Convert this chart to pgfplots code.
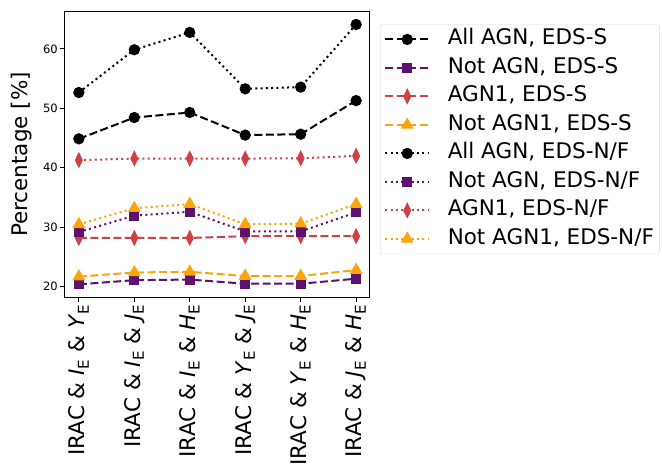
\documentclass[border=0pt]{standalone}
\usepackage{pgfplots}
\pgfplotsset{compat=1.18}
\usepackage{fontspec}
\setmainfont{DejaVu Sans}
\definecolor{cpur}{HTML}{5C126E}
\definecolor{cred}{HTML}{CC4248}
\definecolor{corg}{HTML}{FCA50A}
\newcommand{\bigf}{\fontsize{21.5bp}{25bp}\selectfont}
\newcommand{\lab}[2]{IRAC \& \textit{#1}\textsubscript{E} \& \textit{#2}\textsubscript{E}}
\begin{document}
\begin{tikzpicture}
\useasboundingbox (-65bp,-167bp) rectangle (597bp,297bp);
\begin{axis}[
  scale only axis, width=305bp, height=285bp,
  xmin=-0.25, xmax=5.25, ymin=18.27, ymax=66.2,
  xtick={0,1,2,3,4,5},
  xticklabels={\lab{I}{Y},\lab{I}{J},\lab{I}{H},\lab{Y}{J},\lab{Y}{H},\lab{J}{H}},
  xticklabel style={rotate=90, anchor=east, font=\bigf, inner sep=2bp},
  ytick={20,30,40,50,60},
  yticklabel style={font=\fontsize{11.5bp}{13bp}\selectfont, inner sep=2bp},
  /pgf/number format/assume math mode=true,
  tick align=outside, xtick pos=bottom, ytick pos=left,
  major tick length=5bp,
  tick style={black, line width=0.9bp},
  axis line style={black, line width=1bp},
  ylabel={Percentage [\%]},
  ylabel style={at={(axis description cs:-0.144,0.5)}, anchor=center, font=\bigf},
  every axis plot/.append style={line width=2bp},
  legend style={at={(rel axis cs:1.033,0.957)}, anchor=north west, font=\bigf,
    draw=black!15, rounded corners=2bp, row sep=6.5bp, inner xsep=4bp, inner ysep=4bp,
    nodes={text height=15bp, text depth=4bp, inner sep=1.5bp},
    /tikz/every odd column/.append style={column sep=16bp}},
  legend cell align=left,
  legend image code/.code={\draw[mark repeat=2,mark phase=2] plot coordinates {(0bp,0bp) (22bp,0bp) (44bp,0bp)};},
  dsh/.style={dash pattern=on 8bp off 3.5bp},
  dtt/.style={dash pattern=on 2bp off 3.3bp},
]
\addplot[black, dsh, mark=*, mark size=4.6bp, mark options={solid}] coordinates {(0,44.87) (1,48.45) (2,49.3) (3,45.5) (4,45.65) (5,51.3)};
\addlegendentry{All AGN, EDS-S}
\addplot[cpur, dsh, mark=square*, mark size=4.1bp, mark options={solid}] coordinates {(0,20.4) (1,21.1) (2,21.2) (3,20.5) (4,20.5) (5,21.35)};
\addlegendentry{Not AGN, EDS-S}
\addplot[cred, dsh, mark=diamond*, mark size=6bp, mark options={solid, xscale=0.65}] coordinates {(0,28.2) (1,28.2) (2,28.2) (3,28.5) (4,28.5) (5,28.5)};
\addlegendentry{AGN1, EDS-S}
\addplot[corg, dsh, mark=triangle*, mark size=5.5bp, mark options={solid}] coordinates {(0,21.7) (1,22.4) (2,22.5) (3,21.8) (4,21.8) (5,22.8)};
\addlegendentry{Not AGN1, EDS-S}
\addplot[black, dtt, mark=*, mark size=4.6bp, mark options={solid}] coordinates {(0,52.66) (1,59.85) (2,62.77) (3,53.28) (4,53.57) (5,64.1)};
\addlegendentry{All AGN, EDS-N/F}
\addplot[cpur, dtt, mark=square*, mark size=4.1bp, mark options={solid}] coordinates {(0,29.2) (1,31.95) (2,32.6) (3,29.3) (4,29.3) (5,32.5)};
\addlegendentry{Not AGN, EDS-N/F}
\addplot[cred, dtt, mark=diamond*, mark size=6bp, mark options={solid, xscale=0.65}] coordinates {(0,41.28) (1,41.55) (2,41.55) (3,41.55) (4,41.6) (5,42.0)};
\addlegendentry{AGN1, EDS-N/F}
\addplot[corg, dtt, mark=triangle*, mark size=5.5bp, mark options={solid}] coordinates {(0,30.5) (1,33.2) (2,33.9) (3,30.5) (4,30.6) (5,33.9)};
\addlegendentry{Not AGN1, EDS-N/F}
\end{axis}
\end{tikzpicture}
\end{document}
